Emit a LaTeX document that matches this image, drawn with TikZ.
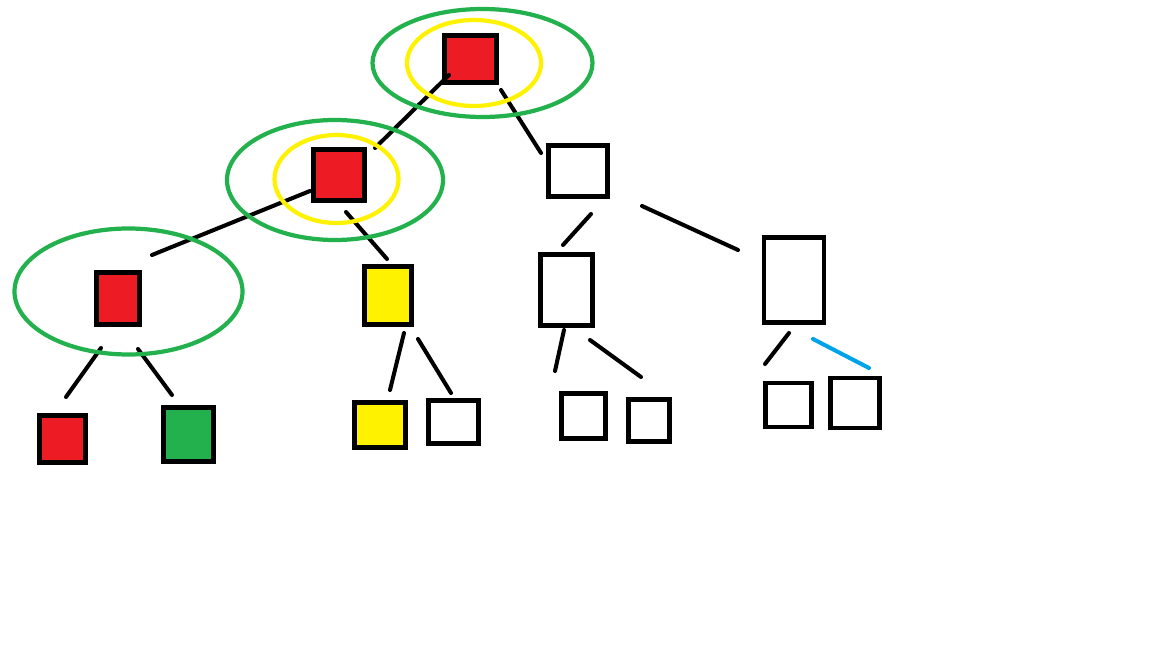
\documentclass[tikz,border=0pt]{standalone}
\usepackage{tikz}

\definecolor{paintred}{HTML}{ED1C24}
\definecolor{paintyellow}{HTML}{FFF200}
\definecolor{paintgreen}{HTML}{22B14C}
\definecolor{paintblue}{HTML}{00A2E8}

\begin{document}
\begin{tikzpicture}[
    x=0.02cm, y=-0.02cm,
    box/.style={rectangle, draw=black, line width=2.8pt, inner sep=0pt, fill=white},
    sz/.style 2 args={minimum width=#1*0.02cm, minimum height=#2*0.02cm},
    redbox/.style={box, fill=paintred},
    yellowbox/.style={box, fill=paintyellow},
    greenbox/.style={box, fill=paintgreen},
    edge/.style={draw, black, line width=2.3pt, line cap=round},
    outerring/.style={draw=paintgreen, line width=2.4pt},
    innerring/.style={draw=paintyellow, line width=2.4pt}
]
\useasboundingbox (0,0) rectangle (1152,648);

% Level 0
\node[redbox, sz={52}{47}] (root) at (470.5, 59) {};

% Level 1
\node[redbox, sz={51}{51}] (nA) at (339, 175) {};
\node[box, sz={59}{51}] (nB) at (578, 171) {};

% Level 2
\node[redbox, sz={43}{52}] (nC) at (118, 298.5) {};
\node[yellowbox, sz={47}{58}] (nD) at (388, 295.5) {};
\node[box, sz={52}{71}] (nE) at (566.5, 290) {};
\node[box, sz={60}{85}] (nF) at (794, 280) {};

% Level 3: leaves
\node[redbox, sz={46}{47}] (leafCa) at (62.5, 439) {};
\node[greenbox, sz={50}{54}] (leafCb) at (188.5, 434.5) {};
\node[yellowbox, sz={51}{45}] (leafDa) at (380, 425) {};
\node[box, sz={50}{43}] (leafDb) at (453.5, 422) {};
\node[box, sz={44}{45}] (leafEa) at (583.5, 416) {};
\node[box, sz={41}{42}] (leafEb) at (649, 420.5) {};
\node[box, sz={46}{44}] (leafFa) at (788.5, 405) {};
\node[box, sz={49}{50}] (leafFb) at (855, 403) {};

% Line ends (hand drawn, they stop short of the boxes)
\coordinate (root-a) at (449, 75);   \coordinate (nA-top) at (375, 148);
\coordinate (root-b) at (501, 90);   \coordinate (nB-top) at (541, 153);
\coordinate (nA-c) at (310, 191);    \coordinate (nC-top) at (152, 255);
\coordinate (nA-d) at (346, 212);    \coordinate (nD-top) at (387, 259);
\coordinate (nB-e) at (591, 214);    \coordinate (nE-top) at (563, 245);
\coordinate (nB-f) at (642, 206);    \coordinate (nF-top) at (738, 250);
\coordinate (nC-a) at (101, 348);    \coordinate (leafCa-top) at (66, 397);
\coordinate (nC-b) at (138, 349);    \coordinate (leafCb-top) at (172, 395);
\coordinate (nD-a) at (404, 333);    \coordinate (leafDa-top) at (390, 390);
\coordinate (nD-b) at (418, 339);    \coordinate (leafDb-top) at (451, 393);
\coordinate (nE-a) at (564, 330);    \coordinate (leafEa-top) at (555, 371);
\coordinate (nE-b) at (590, 340);    \coordinate (leafEb-top) at (641, 377);
\coordinate (nF-a) at (789, 333);    \coordinate (leafFa-top) at (765, 364);
\coordinate (nF-b) at (813, 339);    \coordinate (leafFb-top) at (869, 368);

% Edges
\draw[edge] (root-a) -- (nA-top);
\draw[edge] (root-b) -- (nB-top);
\draw[edge] (nA-c) -- (nC-top);
\draw[edge] (nA-d) -- (nD-top);
\draw[edge] (nB-e) -- (nE-top);
\draw[edge] (nB-f) -- (nF-top);
\draw[edge] (nC-a) -- (leafCa-top);
\draw[edge] (nC-b) -- (leafCb-top);
\draw[edge] (nD-a) -- (leafDa-top);
\draw[edge] (nD-b) -- (leafDb-top);
\draw[edge] (nE-a) -- (leafEa-top);
\draw[edge] (nE-b) -- (leafEb-top);
\draw[edge] (nF-a) -- (leafFa-top);
\draw[edge, paintblue] (nF-b) -- (leafFb-top);

% Rings around the visited path
\draw[outerring] (482.5, 63) ellipse [x radius=110, y radius=54];
\draw[innerring] (474, 63) ellipse [x radius=67, y radius=43];
\draw[outerring] (335, 180) ellipse [x radius=108, y radius=60];
\draw[innerring] (336.5, 179) ellipse [x radius=62, y radius=44];
\draw[outerring] (128.5, 291.5) ellipse [x radius=114, y radius=63];

\end{tikzpicture}
\end{document}
